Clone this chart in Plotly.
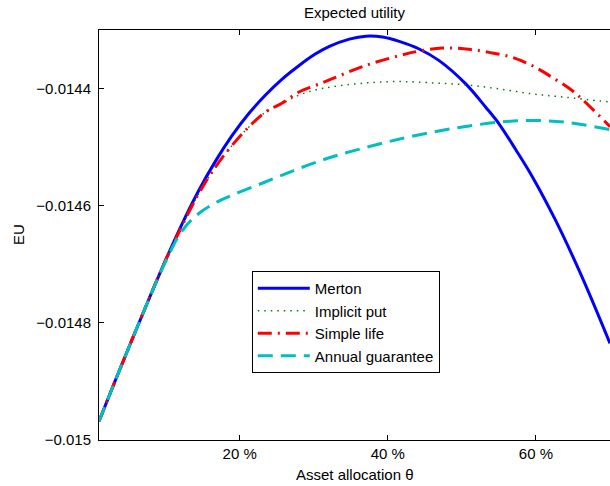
import plotly.graph_objects as go

# ---- data ----
theta_merton = [1.0, 3.25, 5.49, 7.73, 9.98, 12.22, 14.47, 16.71, 18.96, 21.2, 23.45, 25.69,
                27.94, 30.09, 32.11, 34.8, 37.05, 39.29, 41.54, 44.23, 46.93, 50.52, 53.22,
                55.01, 57.26, 59.49, 62.64, 66.2, 70.0]
eu_merton = [-0.014968, -0.014897, -0.0148277, -0.0147597, -0.0146933, -0.014631, -0.0145741,
             -0.0145243, -0.0144805, -0.0144431, -0.0144114, -0.0143842, -0.0143614, -0.014342,
             -0.014328, -0.0143155, -0.0143105, -0.014312, -0.0143195, -0.0143324, -0.0143523,
             -0.014392, -0.0144318, -0.0144601, -0.014504, -0.01455, -0.0146247, -0.014721,
             -0.014835]

theta_put = [1.0, 3.25, 5.49, 7.73, 9.98, 12.22, 14.47, 16.71, 18.96, 21.2, 23.45, 25.69,
             27.94, 30.19, 32.42, 36.92, 41.4, 46.02, 50.52, 55.01, 59.49, 63.99, 70.0]
eu_put = [-0.014968, -0.014897, -0.0148277, -0.0147597, -0.0146933, -0.0146344, -0.0145792,
          -0.014534, -0.014497, -0.0144659, -0.0144404, -0.014426, -0.0144115, -0.0144025,
          -0.014397, -0.0143905, -0.014388, -0.0143903, -0.0143937, -0.0144005, -0.014409,
          -0.0144148, -0.014423]

theta_simple = [1.0, 3.25, 5.49, 7.73, 9.98, 12.22, 14.47, 16.71, 18.96, 21.2, 23.45, 25.69,
                27.94, 30.19, 32.42, 36.92, 41.54, 44.23, 47.37, 50.52, 53.66, 56.8, 59.49,
                62.18, 64.88, 67.13, 70.0]
eu_simple = [-0.014968, -0.014897, -0.0148277, -0.0147597, -0.0146933, -0.0146344, -0.0145792,
             -0.014534, -0.014497, -0.0144659, -0.0144404, -0.014425, -0.0144063, -0.0143949,
             -0.0143835, -0.0143609, -0.0143438, -0.014336, -0.0143307, -0.0143324, -0.0143382,
             -0.0143467, -0.0143609, -0.0143808, -0.0144034, -0.0144289, -0.014465]

theta_annual = [1.0, 3.25, 5.49, 7.73, 9.98, 12.22, 14.47, 16.71, 18.96, 23.45, 27.94, 32.42,
                36.92, 41.47, 46.02, 50.52, 55.01, 59.49, 63.99, 70.0]
eu_annual = [-0.014968, -0.014897, -0.0148277, -0.0147597, -0.0146957, -0.0146429, -0.0146133,
             -0.0145952, -0.0145821, -0.0145595, -0.0145367, -0.0145169, -0.0145009, -0.0144865,
             -0.0144744, -0.0144647, -0.0144574, -0.0144545, -0.0144574, -0.01447]

x_tickvals = [20, 40, 60]
x_ticktext = ["20 %", "40 %", "60 %"]
y_tickvals = [-0.0144, -0.0146, -0.0148, -0.015]
y_ticktext = ["\u22120.0144", "\u22120.0146", "\u22120.0148", "\u22120.015"]

FONT = "Liberation Sans, Arial, Helvetica, sans-serif"
FS = 15

fig = go.Figure()
fig.add_trace(go.Scatter(x=theta_merton, y=eu_merton, mode="lines", name="Merton",
                         line=dict(color="#0000ff", width=3, shape="spline")))
fig.add_trace(go.Scatter(x=theta_put, y=eu_put, mode="lines", name="Implicit put",
                         line=dict(color="#008000", width=1.5, dash="1.5px,5px", shape="spline")))
fig.add_trace(go.Scatter(x=theta_simple, y=eu_simple, mode="lines", name="Simple life",
                         line=dict(color="#ff0000", width=3, dash="14px,6px,2px,6px", shape="spline")))
fig.add_trace(go.Scatter(x=theta_annual, y=eu_annual, mode="lines", name="Annual guarantee",
                         line=dict(color="#00bfbf", width=3, dash="15px,8px", shape="spline")))

fig.update_layout(
    width=610, height=486,
    margin=dict(l=99, r=0, t=30, b=46, pad=0),
    paper_bgcolor="white", plot_bgcolor="white",
    font=dict(family=FONT, size=FS, color="black"),
    showlegend=True,
    legend=dict(x=0.299, y=0.412, xanchor="left", yanchor="top",
                bgcolor="white", bordercolor="black", borderwidth=1,
                font=dict(family=FONT, size=FS, color="black"),
                itemwidth=52, tracegroupgap=0),
    xaxis=dict(range=[1, 70], tickvals=x_tickvals, ticktext=x_ticktext,
               ticks="inside", ticklen=5, tickcolor="black", tickwidth=1,
               showline=True, linecolor="black", linewidth=1, mirror="ticks",
               showgrid=False, zeroline=False, fixedrange=True,
               tickfont=dict(family=FONT, size=FS, color="black")),
    yaxis=dict(range=[-0.015, -0.0143], tickvals=y_tickvals, ticktext=y_ticktext,
               ticks="inside", ticklen=5, tickcolor="black", tickwidth=1,
               showline=True, linecolor="black", linewidth=1, mirror=False,
               showgrid=False, zeroline=False, fixedrange=True,
               ticklabelstandoff=4,
               tickfont=dict(family=FONT, size=FS, color="black")),
    annotations=[
        dict(text="Expected utility", xref="paper", yref="paper", x=0.5, y=1,
             xanchor="center", yanchor="middle", yshift=18, showarrow=False,
             font=dict(family=FONT, size=FS, color="black")),
        dict(text="Asset allocation \u03b8", xref="paper", yref="paper", x=0.5, y=0,
             xanchor="center", yanchor="middle", yshift=-34, showarrow=False,
             font=dict(family=FONT, size=FS, color="black")),
        dict(text="EU", xref="paper", yref="paper", x=0, y=0.5, xshift=-81,
             xanchor="center", yanchor="middle",
             textangle=-90, showarrow=False, font=dict(family=FONT, size=FS, color="black")),
    ],
)

# remove the browser's default 8px page margin so the figure fills the window exactly
fig.write_html("out.html", config={"displayModeBar": False},
               post_script="document.body.style.margin='0px';")
